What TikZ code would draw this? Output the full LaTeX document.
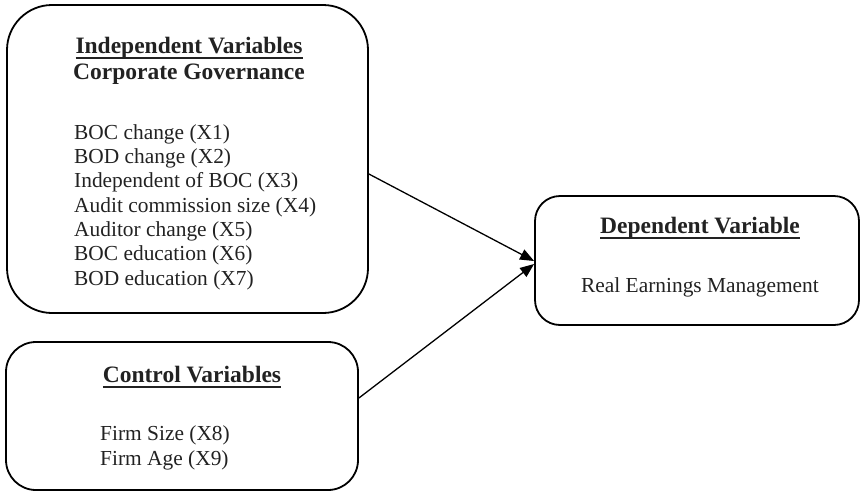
\documentclass[tikz,border=0pt]{standalone}
\usepackage{fontspec}
\setmainfont{Liberation Serif}
\usetikzlibrary{arrows.meta,calc}
\definecolor{txt}{HTML}{222222}
\tikzset{
  box/.style={draw=black, line width=1.8pt, inner sep=0pt},
  ttl/.style={font=\fontsize{23.5}{26}\selectfont\bfseries, text=txt, inner sep=0pt, anchor=base},
  body/.style={font=\fontsize{21.4}{24.3}\selectfont, text=txt, inner sep=0pt, align=left},
  arr/.style={line width=1.3pt, -{Triangle[length=14pt,width=11pt]}}
}
\newcommand{\myul}[1]{\setbox0\hbox{#1}\rlap{\rule[-6pt]{\wd0}{1.8pt}}\box0}
\begin{document}
\begin{tikzpicture}[x=1pt,y=-1pt]
\useasboundingbox (0,0) rectangle (862,493);
% boxes
\node[box, rounded corners=45pt, minimum width=361pt, minimum height=308pt] (b1) at (187.5,159) {};
\node[box, rounded corners=25pt, minimum width=324pt, minimum height=129pt] (b2) at (697,260.5) {};
\node[box, rounded corners=30pt, minimum width=352pt, minimum height=148pt] (b3) at (182,416) {};
% texts box 1
\node[ttl] (t1) at (189,53) {\myul{Independent Variables}};
\node[ttl] (t1b) at (189,79) {Corporate Governance};
\node[body, anchor=base west] (l1) at (74,285) {BOC change (X1)\\BOD change (X2)\\Independent of BOC (X3)\\Audit commission size (X4)\\Auditor change (X5)\\BOC education (X6)\\BOD education (X7)};
% texts box 2
\node[ttl] (t2) at (700,233) {\myul{Dependent Variable}};
\node[body, anchor=base] (l2) at (700,292) {Real Earnings Management};
% texts box 3
\node[ttl] (t3) at (192,382) {\myul{Control Variables}};
\node[body, anchor=base west] (l3) at (100,465) {Firm Size (X8)\\Firm Age (X9)};
% connectors
\coordinate (s1) at (b1.east |- 0,174);
\coordinate (s2) at (b3.east |- 0,398);
\coordinate (e1) at ($(b2.west)+(0,0.5)$);
\coordinate (e2) at ($(b2.west)+(0,3.5)$);
\draw[arr] (s1) -- (e1);
\draw[arr] (s2) -- (e2);
\end{tikzpicture}
\end{document}
